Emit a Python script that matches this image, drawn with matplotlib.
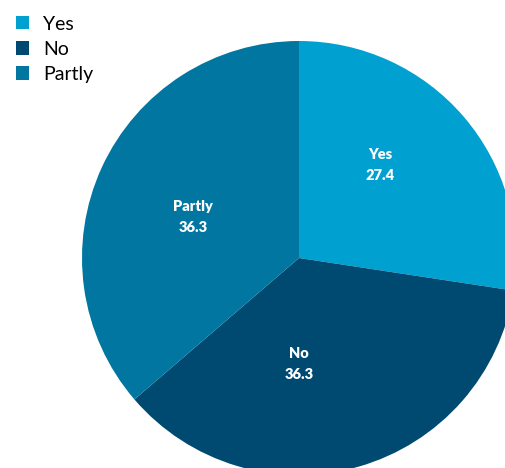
import matplotlib
matplotlib.use("Agg")
import matplotlib.pyplot as plt
from matplotlib.patches import Patch

categories = ["Yes", "No", "Partly"]
values = [27.4, 36.3, 36.3]
colors = ["#00a0d0", "#004a72", "#0076a0"]

# label anchor points (in pie-radius units)
label_pos = [(0.373, 0.43), (0.0, -0.49), (-0.488, 0.19)]

W, H, DPI = 505, 468, 100
fig = plt.figure(figsize=(W / DPI, H / DPI), dpi=DPI)
ax = fig.add_axes([0, 0, 1, 1])

cx, cy, r = 299, 258, 217
ax.pie(values, colors=colors, startangle=90, counterclock=False,
       radius=1, center=(0, 0), wedgeprops=dict(linewidth=0))
ax.set_aspect("auto")
ax.set_xlim(-cx / r, (W - cx) / r)
ax.set_ylim(-(H - cy) / r, cy / r)
ax.axis("off")

for cat, val, (x, y) in zip(categories, values, label_pos):
    ax.text(x, y, f"{cat}\n{val}", ha="center", va="center", color="white",
            fontsize=10.5, fontweight="heavy", family="Lato", linespacing=1.75)

handles = [Patch(facecolor=c, edgecolor="none") for c in colors]
fig.legend(handles, categories, loc="upper left", bbox_to_anchor=(0.0, 1.0),
           frameon=False, prop=dict(family="Lato", size=14),
           handlelength=0.67, handleheight=0.67, handletextpad=0.75,
           labelspacing=0.42, borderaxespad=0.35, borderpad=0.45)

fig.savefig("out.png", dpi=DPI)
